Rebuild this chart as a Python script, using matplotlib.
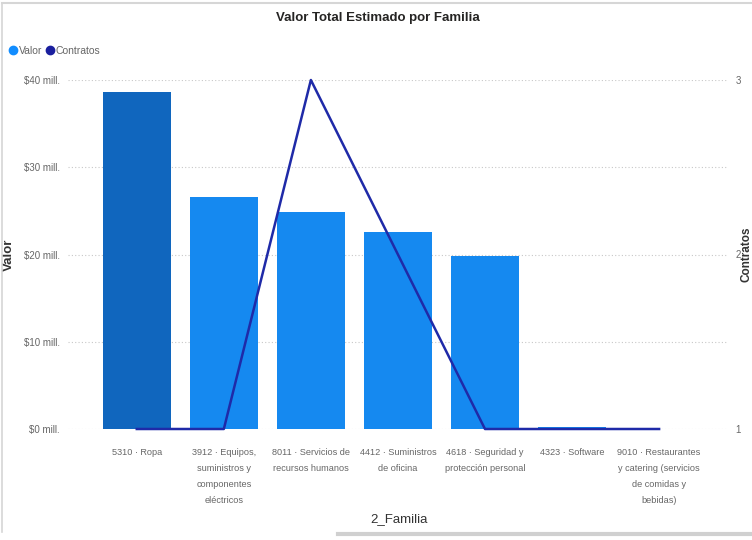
import numpy as np
import matplotlib.pyplot as plt
from matplotlib.lines import Line2D

plt.rcParams['font.family'] = ['Liberation Sans Narrow', 'Liberation Sans', 'DejaVu Sans']

familias = ['5310 · Ropa',
            '3912 · Equipos,\nsuministros y\ncomponentes\neléctricos',
            '8011 · Servicios de\nrecursos humanos',
            '4412 · Suministros\nde oficina',
            '4618 · Seguridad y\nprotección personal',
            '4323 · Software',
            '9010 · Restaurantes\ny catering (servicios\nde comidas y\nbebidas)']
valor = [38.6, 26.6, 24.9, 22.6, 19.8, 0.2, 0.05]   # millones
contratos = [1, 1, 3, 2, 1, 1, 1]

colores = ['#1066BE'] + ['#1589F0'] * 6
gris = '#666666'

fig = plt.figure(figsize=(7.52, 5.40), dpi=100)
ax = fig.add_axes([68/752, 111/540, 659/752, 349/540])
x = np.arange(len(familias))

ax.bar(x, valor, width=0.78, color=colores, zorder=2)
ax.set_ylim(0, 40)
ax.set_xlim(-0.79, 6.78)
ax.set_yticks([0, 10, 20, 30, 40])
ax.set_yticklabels(['$%d mill.' % v for v in [0, 10, 20, 30, 40]])
ax.yaxis.grid(True, linestyle=(0, (1, 2)), color='#c8c8c8', linewidth=0.8, zorder=0)
ax.set_xticks(x)
ax.set_xticklabels(familias, fontsize=6.6, color=gris, linespacing=2.0, va='top')
ax.tick_params(axis='both', length=0, labelcolor=gris)
ax.tick_params(axis='y', labelsize=7, pad=6)
ax.tick_params(axis='x', pad=14)
for s in ax.spines.values():
    s.set_visible(False)
ax.set_ylabel('Valor', fontsize=9.5, fontweight='bold', color='#333333')
ax.yaxis.set_label_coords(-53/659, 0.5)
ax.set_xlabel('2_Familia', fontsize=9.5, color='#333333')
ax.xaxis.set_label_coords(0.503, -84/349)

ax2 = ax.twinx()
ax2.plot(x, contratos, color='#1F2AA8', linewidth=1.8, clip_on=False, zorder=3)
ax2.set_ylim(1, 3)
ax2.set_yticks([1, 2, 3])
ax2.tick_params(axis='y', length=0, labelsize=7, labelcolor=gris, pad=6)
for s in ax2.spines.values():
    s.set_visible(False)
fig.text(1.0, 0.53, 'Contratos', rotation=90, fontsize=8.5, fontweight='bold',
         color='#333333', ha='right', va='center')

fig.text(0.503, 0.966, 'Valor Total Estimado por Familia', ha='center', va='center',
         fontsize=9.5, fontweight='bold', color='#252423')

handles = [Line2D([], [], marker='o', linestyle='', color='#118DFF', markersize=6),
           Line2D([], [], marker='o', linestyle='', color='#1A1F9E', markersize=6)]
fig.legend(handles, ['Valor', 'Contratos'], loc='center left', bbox_to_anchor=(0.008, 0.906),
           ncol=2, frameon=False, fontsize=7.5, labelcolor=gris, handletextpad=0.2,
           columnspacing=0.5, handlelength=0.6, borderaxespad=0)

# marco gris del panel
fig.add_artist(Line2D([0.003, 0.003], [0.015, 0.995], color='#d6d6d6', linewidth=1.2))
fig.add_artist(Line2D([0.003, 1.0], [0.995, 0.995], color='#d6d6d6', linewidth=1.5))
fig.add_artist(Line2D([0.45, 1.0], [0.012, 0.012], color='#d0d0d0', linewidth=3))

fig.savefig('out.png', dpi=100)
